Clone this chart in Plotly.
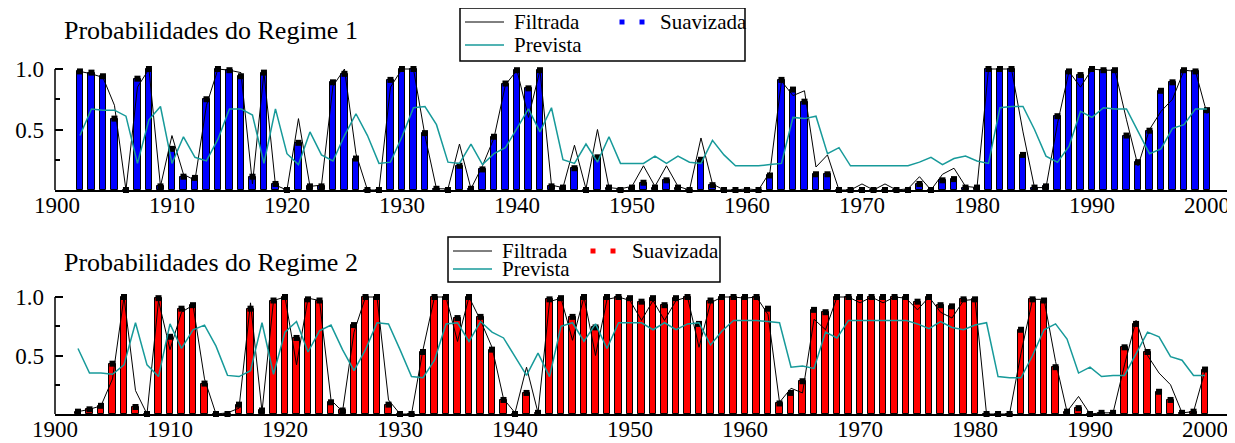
import plotly.graph_objects as go

years = list(range(1902, 2001))

# Regime 1 (top panel)
s1 = [0.98, 0.97, 0.94, 0.59, 0.00, 0.92, 1.00, 0.03, 0.34, 0.11,
      0.10, 0.75, 1.00, 0.99, 0.94, 0.11, 0.97, 0.05, 0.00, 0.39,
      0.03, 0.03, 0.89, 0.96, 0.26, 0.00, 0.00, 0.91, 1.00, 1.00,
      0.47, 0.01, 0.00, 0.20, 0.01, 0.17, 0.44, 0.88, 0.99, 0.84,
      0.99, 0.03, 0.02, 0.18, 0.00, 0.27, 0.02, 0.00, 0.02, 0.06,
      0.02, 0.08, 0.02, 0.00, 0.25, 0.04, 0.00, 0.00, 0.00, 0.00,
      0.12, 0.91, 0.83, 0.73, 0.13, 0.13, 0.00, 0.00, 0.00, 0.00,
      0.00, 0.00, 0.00, 0.05, 0.00, 0.08, 0.09, 0.02, 0.02, 1.00,
      1.00, 1.00, 0.29, 0.02, 0.03, 0.61, 0.98, 0.95, 1.00, 0.99,
      0.99, 0.45, 0.23, 0.49, 0.82, 0.89, 0.99, 0.98, 0.66]
f1 = [0.98, 0.96, 0.93, 0.70, 0.00, 0.85, 1.00, 0.03, 0.45, 0.13,
      0.08, 0.70, 1.00, 0.99, 0.97, 0.05, 0.97, 0.04, 0.00, 0.59,
      0.03, 0.04, 0.86, 1.00, 0.30, 0.00, 0.00, 0.85, 1.00, 1.00,
      0.45, 0.01, 0.01, 0.38, 0.01, 0.20, 0.43, 0.87, 0.99, 0.60,
      0.99, 0.04, 0.02, 0.37, 0.01, 0.50, 0.02, 0.01, 0.03, 0.20,
      0.03, 0.20, 0.03, 0.00, 0.43, 0.05, 0.00, 0.00, 0.01, 0.00,
      0.15, 0.90, 0.78, 0.82, 0.19, 0.29, 0.00, 0.00, 0.05, 0.00,
      0.05, 0.00, 0.01, 0.11, 0.00, 0.13, 0.18, 0.03, 0.02, 1.00,
      1.00, 1.00, 0.48, 0.02, 0.02, 0.55, 0.98, 0.85, 1.00, 0.99,
      0.99, 0.58, 0.20, 0.50, 0.65, 0.75, 0.99, 0.98, 0.63]
p1 = [0.45, 0.67, 0.66, 0.66, 0.61, 0.22, 0.58, 0.69, 0.22, 0.44,
      0.27, 0.24, 0.42, 0.67, 0.67, 0.62, 0.22, 0.67, 0.30, 0.21,
      0.48, 0.29, 0.24, 0.45, 0.63, 0.45, 0.22, 0.23, 0.44, 0.68,
      0.69, 0.54, 0.23, 0.22, 0.38, 0.21, 0.30, 0.35, 0.51, 0.67,
      0.48, 0.68, 0.25, 0.22, 0.38, 0.23, 0.44, 0.22, 0.22, 0.22,
      0.28, 0.22, 0.28, 0.23, 0.22, 0.41, 0.29, 0.20, 0.20, 0.20,
      0.21, 0.22, 0.60, 0.59, 0.61, 0.30, 0.35, 0.20, 0.20, 0.20,
      0.20, 0.20, 0.20, 0.23, 0.27, 0.21, 0.26, 0.28, 0.24, 0.22,
      0.68, 0.69, 0.69, 0.50, 0.28, 0.23, 0.36, 0.65, 0.60, 0.68,
      0.67, 0.67, 0.48, 0.30, 0.34, 0.51, 0.54, 0.67, 0.67]

# Regime 2 (bottom panel)
s2 = [0.02, 0.04, 0.07, 0.43, 1.00, 0.06, 0.00, 0.99, 0.66, 0.90,
      0.93, 0.26, 0.00, 0.00, 0.08, 0.90, 0.03, 0.97, 1.00, 0.65,
      0.98, 0.97, 0.10, 0.03, 0.76, 1.00, 1.00, 0.08, 0.00, 0.00,
      0.53, 1.00, 1.00, 0.82, 1.00, 0.83, 0.55, 0.12, 0.00, 0.18,
      0.01, 0.98, 0.99, 0.83, 1.00, 0.74, 1.00, 1.00, 0.99, 0.96,
      0.99, 0.93, 0.99, 1.00, 0.77, 0.97, 1.00, 1.00, 1.00, 1.00,
      0.90, 0.09, 0.18, 0.28, 0.89, 0.87, 1.00, 1.00, 1.00, 1.00,
      1.00, 1.00, 1.00, 0.96, 1.00, 0.93, 0.92, 0.98, 0.98, 0.00,
      0.00, 0.00, 0.72, 0.98, 0.97, 0.40, 0.02, 0.05, 0.00, 0.01,
      0.01, 0.57, 0.77, 0.53, 0.19, 0.12, 0.01, 0.02, 0.38]
f2 = [0.02, 0.04, 0.07, 0.30, 1.00, 0.20, 0.00, 0.97, 0.55, 0.87,
      0.93, 0.30, 0.00, 0.01, 0.05, 0.95, 0.02, 0.97, 1.00, 0.42,
      0.99, 0.97, 0.12, 0.02, 0.70, 1.00, 1.00, 0.12, 0.00, 0.00,
      0.55, 1.00, 1.00, 0.62, 1.00, 0.80, 0.57, 0.13, 0.01, 0.40,
      0.01, 0.96, 0.99, 0.63, 1.00, 0.50, 0.98, 1.00, 0.97, 0.80,
      0.97, 0.80, 0.97, 1.00, 0.57, 0.95, 1.00, 1.00, 0.99, 1.00,
      0.85, 0.10, 0.22, 0.18, 0.81, 0.72, 1.00, 1.00, 0.95, 1.00,
      0.95, 1.00, 0.99, 0.89, 1.00, 0.87, 0.82, 0.97, 0.98, 0.00,
      0.00, 0.00, 0.52, 0.98, 0.98, 0.45, 0.02, 0.15, 0.00, 0.01,
      0.01, 0.42, 0.80, 0.50, 0.35, 0.25, 0.01, 0.02, 0.37]
p2 = [0.56, 0.35, 0.35, 0.34, 0.42, 0.78, 0.42, 0.32, 0.77, 0.56,
      0.72, 0.76, 0.58, 0.33, 0.32, 0.37, 0.78, 0.34, 0.70, 0.79,
      0.53, 0.71, 0.76, 0.55, 0.37, 0.55, 0.78, 0.77, 0.55, 0.32,
      0.31, 0.46, 0.77, 0.78, 0.62, 0.79, 0.70, 0.65, 0.49, 0.33,
      0.52, 0.32, 0.75, 0.78, 0.62, 0.77, 0.56, 0.78, 0.78, 0.78,
      0.72, 0.78, 0.72, 0.77, 0.78, 0.59, 0.71, 0.80, 0.80, 0.80,
      0.79, 0.78, 0.40, 0.41, 0.39, 0.70, 0.65, 0.80, 0.80, 0.80,
      0.80, 0.80, 0.80, 0.77, 0.73, 0.79, 0.74, 0.72, 0.76, 0.78,
      0.32, 0.31, 0.31, 0.50, 0.72, 0.77, 0.64, 0.35, 0.40, 0.32,
      0.33, 0.33, 0.52, 0.70, 0.66, 0.49, 0.46, 0.33, 0.33]

x_tick_vals = [1900, 1910, 1920, 1930, 1940, 1950, 1960, 1970, 1980, 1990, 2000]
y_tick_vals = [0.5, 1.0]
y_tick_text = ["0.5", "1.0"]
y_minor_vals = [0.25, 0.75]
titles = ["Probabilidades do Regime 1", "Probabilidades do Regime 2"]
legend_labels = ["Filtrada", "Suavizada", "Prevista"]

# the page body has an 8px margin; the figure fills the rest of the 1235x443 window
OFF = 8
W, H = 1235 - OFF, 443 - OFF
FONT = "'Liberation Serif', 'Times New Roman', 'DejaVu Serif', serif"
TEAL = "#179a9a"


def fx(x):
    return (x - OFF) / W


def fy(y):
    return 1 - (y - OFF) / H


panels = [
    dict(xa="x", ya="y", s=s1, f=f1, p=p1, color="#0000ff",
         y0px=190, y1px=69, toppx=60, xr=[1899.83, 2002.0]),
    dict(xa="x2", ya="y2", s=s2, f=f2, p=p2, color="#ff0000",
         y0px=414, y1px=297, toppx=288, xr=[1900.0, 2002.17]),
]

fig = go.Figure()
for pn in panels:
    fig.add_trace(go.Bar(x=years, y=pn["s"], width=0.55, xaxis=pn["xa"], yaxis=pn["ya"],
                         marker=dict(color=pn["color"], line=dict(color="black", width=1)),
                         showlegend=False, hoverinfo="skip"))
    fig.add_trace(go.Scatter(x=years, y=pn["s"], mode="markers", xaxis=pn["xa"], yaxis=pn["ya"],
                             marker=dict(symbol="square", size=6, color="black"),
                             cliponaxis=False, showlegend=False, hoverinfo="skip"))
    fig.add_trace(go.Scatter(x=years, y=pn["f"], mode="lines", xaxis=pn["xa"], yaxis=pn["ya"],
                             line=dict(color="black", width=1), cliponaxis=False,
                             showlegend=False, hoverinfo="skip"))
    fig.add_trace(go.Scatter(x=years, y=pn["p"], mode="lines", xaxis=pn["xa"], yaxis=pn["ya"],
                             line=dict(color=TEAL, width=1.5), cliponaxis=False,
                             showlegend=False, hoverinfo="skip"))

layout = dict(width=W, height=H, autosize=False, margin=dict(l=0, r=0, t=0, b=0, pad=0),
              paper_bgcolor="white", plot_bgcolor="white", bargap=0,
              font=dict(family=FONT, color="black"))
shapes = []
annotations = []
for i, pn in enumerate(panels):
    suffix = "" if i == 0 else "2"
    unit = pn["y0px"] - pn["y1px"]
    ytop = (pn["y0px"] - pn["toppx"]) / unit
    layout["xaxis" + suffix] = dict(
        domain=[fx(55), fx(1230)], range=pn["xr"], anchor="y" + suffix, automargin=False,
        showline=True, linecolor="black", linewidth=1.5, showgrid=False, zeroline=False,
        tickmode="array", tickvals=x_tick_vals, ticks="", ticklabelstandoff=-6,
        tickfont=dict(family=FONT, size=23, color="black"))
    layout["yaxis" + suffix] = dict(
        domain=[fy(pn["y0px"]), fy(pn["toppx"])], range=[0, ytop], anchor="x" + suffix,
        automargin=False, showline=False, showgrid=False, zeroline=False,
        tickmode="array", tickvals=y_tick_vals, ticktext=y_tick_text,
        ticks="inside", ticklen=8, tickwidth=1.5, tickcolor="black", ticklabelstandoff=10,
        minor=dict(tickvals=y_minor_vals, ticks="inside", ticklen=5, tickwidth=1.5,
                   tickcolor="black"),
        tickfont=dict(family=FONT, size=23, color="black"))
    shapes.append(dict(type="line", xref="paper", yref="y" + suffix,
                       x0=fx(55), x1=fx(55), y0=0, y1=1.0,
                       line=dict(color="black", width=1.5)))
    shapes.append(dict(type="line", xref="paper", yref="paper",
                       x0=fx(1230), x1=fx(1230), y0=fy(pn["y0px"]), y1=fy(pn["y0px"] - 6),
                       line=dict(color="black", width=1.5)))

annotations.append(dict(text=titles[0], x=fx(62), y=fy(31), xref="paper", yref="paper",
                        xanchor="left", yanchor="middle", showarrow=False,
                        font=dict(family=FONT, size=26, color="black")))
annotations.append(dict(text=titles[1], x=fx(62), y=fy(262), xref="paper", yref="paper",
                        xanchor="left", yanchor="middle", showarrow=False,
                        font=dict(family=FONT, size=26, color="black")))

legends = [
    dict(box=(460, 8, 745, 61), row1=22, row2=45, line=(465, 504), txt=512,
         sq=(622, 642), stxt=658, color="#0000ff"),
    dict(box=(448, 237, 720, 282), row1=251, row2=269, line=(453, 492), txt=500,
         sq=(593, 613), stxt=630, color="#ff0000"),
]
for lg in legends:
    x0, y0, x1, y1 = lg["box"]
    shapes.append(dict(type="rect", xref="paper", yref="paper",
                       x0=fx(x0), x1=fx(x1), y0=fy(y1), y1=fy(y0),
                       line=dict(color="black", width=1.5), fillcolor="white"))
    shapes.append(dict(type="line", xref="paper", yref="paper",
                       x0=fx(lg["line"][0]), x1=fx(lg["line"][1]), y0=fy(lg["row1"]), y1=fy(lg["row1"]),
                       line=dict(color="black", width=1)))
    shapes.append(dict(type="line", xref="paper", yref="paper",
                       x0=fx(lg["line"][0]), x1=fx(lg["line"][1]), y0=fy(lg["row2"]), y1=fy(lg["row2"]),
                       line=dict(color=TEAL, width=1.5)))
    for sx in lg["sq"]:
        shapes.append(dict(type="rect", xref="paper", yref="paper",
                           x0=fx(sx - 2.5), x1=fx(sx + 2.5), y0=fy(lg["row1"] + 2.5), y1=fy(lg["row1"] - 2.5),
                           line=dict(width=0), fillcolor=lg["color"]))
    for label, xx, yy in [(legend_labels[0], lg["txt"], lg["row1"]),
                          (legend_labels[1], lg["stxt"], lg["row1"]),
                          (legend_labels[2], lg["txt"], lg["row2"])]:
        annotations.append(dict(text=label, x=fx(xx), y=fy(yy), xref="paper", yref="paper",
                                xanchor="left", yanchor="middle", showarrow=False,
                                font=dict(family=FONT, size=21, color="black")))

layout["shapes"] = shapes
layout["annotations"] = annotations
fig.update_layout(**layout)
fig.write_html("out.html")
